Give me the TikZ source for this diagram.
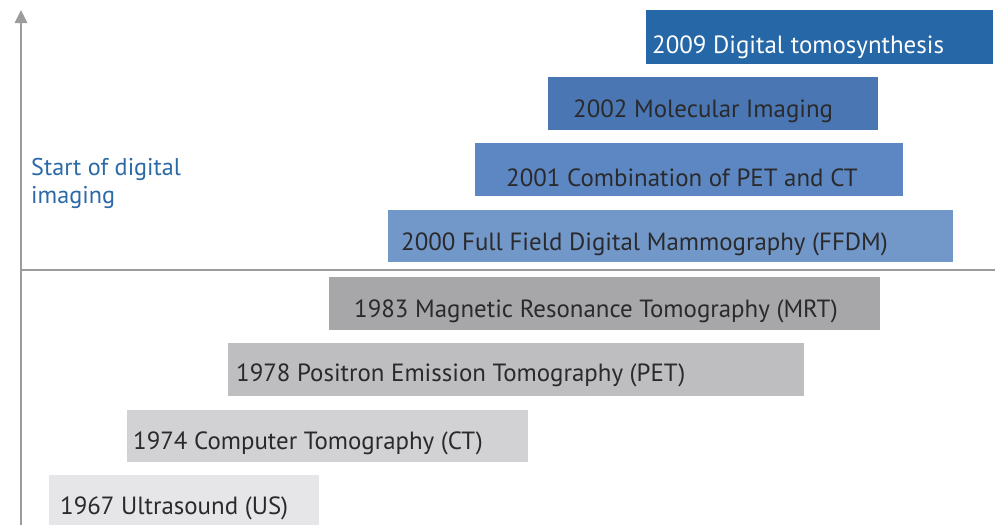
\documentclass[tikz,border=0pt]{standalone}
\usepackage{fontspec}
\setmainfont{PT Sans}
\usetikzlibrary{arrows.meta}
\definecolor{axisgray}{HTML}{9C9C9E}
\definecolor{bluea}{HTML}{2567A7}
\definecolor{blueb}{HTML}{4A77B3}
\definecolor{bluec}{HTML}{5D87C2}
\definecolor{blued}{HTML}{7297C9}
\definecolor{graya}{HTML}{A7A7A9}
\definecolor{grayb}{HTML}{BEBEC0}
\definecolor{grayc}{HTML}{D2D2D4}
\definecolor{grayd}{HTML}{E6E6E8}
\definecolor{labelblue}{HTML}{2B69A7}
\definecolor{bartext}{HTML}{2A2A2C}
\tikzset{
  bar/.style={draw=none, inner sep=0pt, anchor=north west},
  bartxt/.style={inner sep=0pt, anchor=base west, text=bartext, font=\fontsize{24.9}{28}\selectfont},
  axisline/.style={draw=axisgray, line width=2.6pt},
}
\begin{document}
\begin{tikzpicture}[x=1pt,y=-1pt]
\useasboundingbox (0,0) rectangle (997,525);
% axes
\coordinate (axbot) at (21,525);
\coordinate (axtop) at (21,10);
\coordinate (divl) at (21,270);
\coordinate (divr) at (995,270);
\draw[axisline, line width=2pt] (divl) -- (divr);
\draw[axisline, -{Triangle[length=13pt,width=12pt]}] (axbot) -- (axtop);
% digital era
\node[bar, fill=bluea, minimum width=347pt, minimum height=54pt] (b2009) at (646,10) {};
\node[bartxt, text=white] (t2009) at (652,53) {2009 Digital tomosynthesis};
\node[bar, fill=blueb, minimum width=330pt, minimum height=53pt] (b2002) at (548,77) {};
\node[bartxt] (t2002) at (573,117) {2002 Molecular Imaging};
\node[bar, fill=bluec, minimum width=428pt, minimum height=53pt] (b2001) at (475,143) {};
\node[bartxt] (t2001) at (506,186) {2001 Combination of PET and CT};
\node[bar, fill=blued, minimum width=565pt, minimum height=52pt] (b2000) at (388,210) {};
\node[bartxt] (t2000) at (401,250) {2000 Full Field Digital Mammography (FFDM)};
% analog era
\node[bar, fill=graya, minimum width=551pt, minimum height=53pt] (b1983) at (329,277) {};
\node[bartxt] (t1983) at (354,317) {1983 Magnetic Resonance Tomography (MRT)};
\node[bar, fill=grayb, minimum width=576pt, minimum height=53pt] (b1978) at (228,343) {};
\node[bartxt] (t1978) at (236,381) {1978 Positron Emission Tomography (PET)};
\node[bar, fill=grayc, minimum width=401pt, minimum height=52pt] (b1974) at (127,410) {};
\node[bartxt] (t1974) at (133,449) {1974 Computer Tomography (CT)};
\node[bar, fill=grayd, minimum width=270pt, minimum height=51pt] (b1967) at (49,475) {};
\node[bartxt] (t1967) at (60,514) {1967 Ultrasound (US)};
% era label (base anchor sits on the last line)
\node[inner sep=0pt, anchor=base west, text=labelblue, align=left,
      font=\fontsize{24.2}{28}\selectfont] (era) at (31,203) {Start of digital\\imaging};
\end{tikzpicture}
\end{document}
